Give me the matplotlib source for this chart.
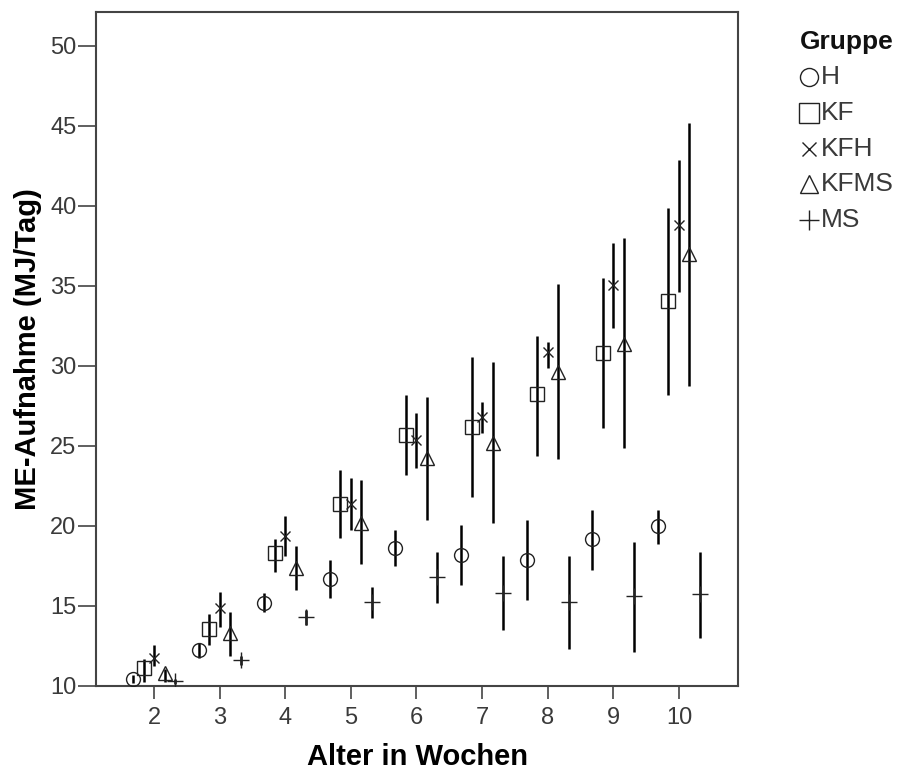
import matplotlib
matplotlib.use("Agg")
import matplotlib.pyplot as plt
from matplotlib.lines import Line2D
import numpy as np

plt.rcParams['font.family'] = ['Liberation Sans', 'DejaVu Sans']

weeks = [2, 3, 4, 5, 6, 7, 8, 9, 10]
groups = ["H", "KF", "KFH", "KFMS", "MS"]

h_mean = [10.45, 12.25, 15.2, 16.7, 18.6, 18.2, 17.9, 19.2, 20.0]
h_lo   = [10.2, 11.75, 14.6, 15.5, 17.5, 16.3, 15.4, 17.25, 18.9]
h_hi   = [10.7, 12.7, 15.8, 17.9, 19.75, 20.05, 20.4, 21.0, 21.0]

kf_mean = [11.1, 13.55, 18.3, 21.4, 25.7, 26.2, 28.25, 30.8, 34.05]
kf_lo   = [10.25, 12.55, 17.1, 19.25, 23.2, 21.8, 24.4, 26.1, 28.2]
kf_hi   = [11.7, 14.5, 19.2, 23.5, 28.2, 30.55, 31.9, 35.5, 39.9]

kfh_mean = [11.75, 14.9, 19.4, 21.4, 25.4, 26.8, 30.85, 35.05, 38.8]
kfh_lo   = [11.25, 13.7, 18.1, 19.75, 23.6, 25.8, 29.9, 32.4, 34.6]
kfh_hi   = [12.55, 15.9, 20.6, 23.0, 27.05, 27.75, 31.5, 37.7, 42.9]

kfms_mean = [10.8, 13.3, 17.4, 20.2, 24.25, 25.2, 29.6, 31.4, 37.0]
kfms_lo   = [10.25, 11.9, 16.0, 17.6, 20.4, 20.2, 24.2, 24.9, 28.75]
kfms_hi   = [11.05, 14.6, 18.75, 22.9, 28.05, 30.25, 35.1, 38.0, 45.2]

ms_mean = [10.3, 11.6, 14.3, 15.25, 16.8, 15.8, 15.25, 15.6, 15.75]
ms_lo   = [10.15, 11.3, 13.8, 14.25, 15.2, 13.5, 12.3, 12.1, 13.0]
ms_hi   = [10.45, 11.9, 14.75, 16.2, 18.4, 18.1, 18.1, 19.0, 18.4]

y_ticks = [10, 15, 20, 25, 30, 35, 40, 45, 50]

data = {
    "H": (h_mean, h_lo, h_hi),
    "KF": (kf_mean, kf_lo, kf_hi),
    "KFH": (kfh_mean, kfh_lo, kfh_hi),
    "KFMS": (kfms_mean, kfms_lo, kfms_hi),
    "MS": (ms_mean, ms_lo, ms_hi),
}
offsets = {"H": -0.32, "KF": -0.16, "KFH": 0.0, "KFMS": 0.16, "MS": 0.32}
markers = {"H": "o", "KF": "s", "KFH": "x", "KFMS": "^", "MS": "+"}
msizes = {"H": 10, "KF": 10, "KFH": 7.5, "KFMS": 10, "MS": 11}

W, H = 915, 778
fig = plt.figure(figsize=(W / 100, H / 100), dpi=100)
ax = fig.add_axes([96 / W, 92 / H, (738 - 96) / W, (686 - 12) / H])

for g in groups:
    m, lo, hi = (np.array(a) for a in data[g])
    x = np.array(weeks) + offsets[g]
    ax.vlines(x, lo, hi, colors="black", linewidth=1.8, zorder=3)
    ax.plot(x, m, linestyle="none", marker=markers[g], markersize=msizes[g],
            markerfacecolor="none", markeredgecolor="#222222", markeredgewidth=1.0, zorder=4)

ax.set_xlim(1.116, 10.9)
ax.set_ylim(10, 52.125)
ax.set_xticks(weeks)
ax.set_yticks(y_ticks)
ax.tick_params(axis="both", direction="out", width=1.2, color="#444444",
               labelcolor="#3a3a3a", labelsize=17)
ax.tick_params(axis="y", length=13, pad=1)
ax.tick_params(axis="x", length=9, pad=6)
for s in ax.spines.values():
    s.set_color("#444444")
    s.set_linewidth(1.5)

ax.set_xlabel("Alter in Wochen", fontsize=21, fontweight="bold", labelpad=10)
ax.set_ylabel("ME-Aufnahme (MJ/Tag)", fontsize=21, fontweight="bold", labelpad=6)

# legend
fig.text(800 / W, 1 - 42 / H, "Gruppe", fontsize=19, fontweight="bold",
         ha="left", va="center", color="#111111")
row_y = [77, 113, 149, 184, 220]
leg_ms = {"H": 13, "KF": 14, "KFH": 10, "KFMS": 13, "MS": 15}
for g, yy in zip(groups, row_y):
    fig.add_artist(Line2D([809 / W], [1 - yy / H], transform=fig.transFigure,
                          linestyle="none", marker=markers[g], markersize=leg_ms[g],
                          markerfacecolor="none", markeredgecolor="#222222",
                          markeredgewidth=1.0))
    fig.text(821 / W, 1 - yy / H, g, fontsize=19, ha="left", va="center",
             color="#3a3a3a")

fig.savefig("out.png", dpi=100)
